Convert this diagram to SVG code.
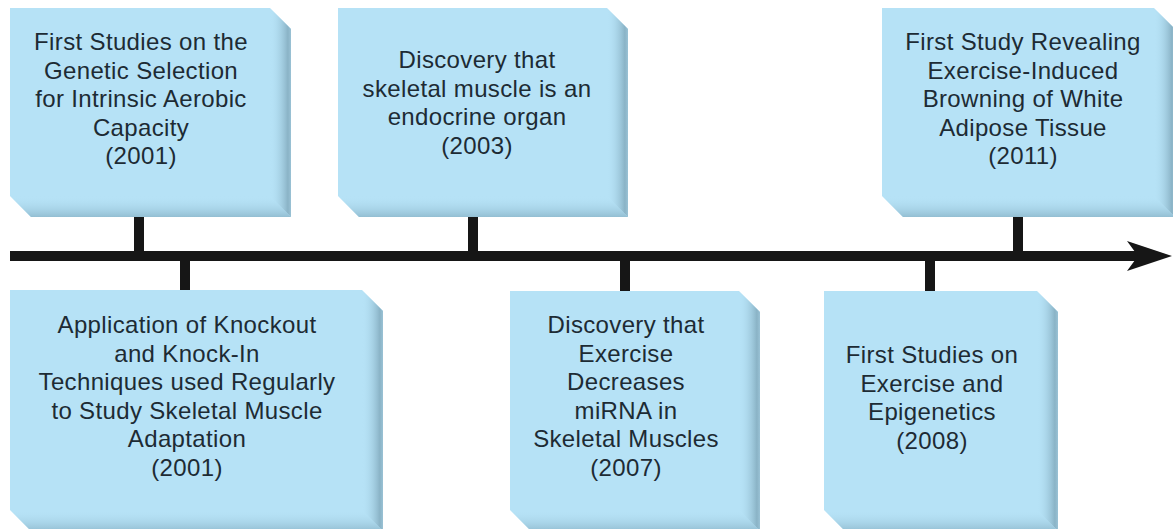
<svg xmlns="http://www.w3.org/2000/svg" width="1173" height="529" viewBox="0 0 1173 529">
  <defs>
    <linearGradient id="sideR" x1="0" y1="0" x2="1" y2="0">
      <stop offset="0" stop-color="#b5e1f5" stop-opacity="0"/>
      <stop offset="0.85" stop-color="#8ab3c6"/>
      <stop offset="1" stop-color="#9ac2d5"/>
    </linearGradient>
    <linearGradient id="sideB" x1="0" y1="0" x2="0" y2="1">
      <stop offset="0" stop-color="#b5e1f5" stop-opacity="0"/>
      <stop offset="1" stop-color="#93bed2"/>
    </linearGradient>
  </defs>
  <style>
    .face { fill: #b6e2f6; }
    .sr { fill: url(#sideR); }
    .sb { fill: url(#sideB); }
    .lbl { font-family: "Liberation Sans", Arial, sans-serif; font-size: 24px; letter-spacing: 0.35px; fill: #1d2b34; text-anchor: middle; }
    .stem { fill: #161616; }
  </style>
  <rect width="1173" height="529" fill="#ffffff"/>

  <!-- timeline axis, stems and arrowhead -->
  <g id="connectors">
    <rect x="10" y="251" width="1130" height="10" class="stem"/>
    <polygon points="1172,256 1127,241 1138,256 1127,271" class="stem"/>
    <rect x="134" y="217" width="10" height="36" class="stem"/>
    <rect x="468" y="217" width="10" height="36" class="stem"/>
    <rect x="1013" y="217" width="10" height="36" class="stem"/>
    <rect x="180" y="259" width="10" height="32" class="stem"/>
    <rect x="620" y="259" width="10" height="33" class="stem"/>
    <rect x="925" y="259" width="10" height="33" class="stem"/>
  </g>

  <!-- 2001: genetic selection -->
  <g id="n2001a">
    <polygon class="face" points="10,8 270,8 291,29 291,217 31,217 10,196"/>
    <polygon class="sr" points="270,8 291,29 291,217 270,196"/>
    <polygon class="sb" points="10,196 270,196 291,217 31,217"/>
    <text class="lbl" x="141" y="50">First Studies on the</text>
    <text class="lbl" x="141" y="78.5">Genetic Selection</text>
    <text class="lbl" x="141" y="107">for Intrinsic Aerobic</text>
    <text class="lbl" x="141" y="135.5">Capacity</text>
    <text class="lbl" x="141" y="164">(2001)</text>
  </g>

  <!-- 2003: endocrine organ -->
  <g id="n2003">
    <polygon class="face" points="338,8 607,8 628,29 628,217 359,217 338,196"/>
    <polygon class="sr" points="607,8 628,29 628,217 607,196"/>
    <polygon class="sb" points="338,196 607,196 628,217 359,217"/>
    <text class="lbl" x="477" y="68">Discovery that</text>
    <text class="lbl" x="477" y="96.5">skeletal muscle is an</text>
    <text class="lbl" x="477" y="125">endocrine organ</text>
    <text class="lbl" x="477" y="153.5">(2003)</text>
  </g>

  <!-- 2011: browning of white adipose -->
  <g id="n2011">
    <polygon class="face" points="882,8 1154,8 1175,29 1175,217 903,217 882,196"/>
    <polygon class="sr" points="1154,8 1175,29 1175,217 1154,196"/>
    <polygon class="sb" points="882,196 1154,196 1175,217 903,217"/>
    <text class="lbl" x="1023" y="50">First Study Revealing</text>
    <text class="lbl" x="1023" y="78.5">Exercise-Induced</text>
    <text class="lbl" x="1023" y="107">Browning of White</text>
    <text class="lbl" x="1023" y="135.5">Adipose Tissue</text>
    <text class="lbl" x="1023" y="164">(2011)</text>
  </g>

  <!-- 2001: knockout / knock-in -->
  <g id="n2001b">
    <polygon class="face" points="10,290 362,290 383,311 383,531 31,531 10,510"/>
    <polygon class="sr" points="362,290 383,311 383,531 362,510"/>
    <polygon class="sb" points="10,510 362,510 383,531 31,531"/>
    <text class="lbl" x="187" y="333">Application of Knockout</text>
    <text class="lbl" x="187" y="361.5">and Knock-In</text>
    <text class="lbl" x="187" y="390">Techniques used Regularly</text>
    <text class="lbl" x="187" y="418.5">to Study Skeletal Muscle</text>
    <text class="lbl" x="187" y="447">Adaptation</text>
    <text class="lbl" x="187" y="475.5">(2001)</text>
  </g>

  <!-- 2007: miRNA -->
  <g id="n2007">
    <polygon class="face" points="510,291 739,291 760,312 760,531 531,531 510,510"/>
    <polygon class="sr" points="739,291 760,312 760,531 739,510"/>
    <polygon class="sb" points="510,510 739,510 760,531 531,531"/>
    <text class="lbl" x="626" y="333">Discovery that</text>
    <text class="lbl" x="626" y="361.5">Exercise</text>
    <text class="lbl" x="626" y="390">Decreases</text>
    <text class="lbl" x="626" y="418.5">miRNA in</text>
    <text class="lbl" x="626" y="447">Skeletal Muscles</text>
    <text class="lbl" x="626" y="475.5">(2007)</text>
  </g>

  <!-- 2008: epigenetics -->
  <g id="n2008">
    <polygon class="face" points="824,291 1037,291 1058,312 1058,531 845,531 824,510"/>
    <polygon class="sr" points="1037,291 1058,312 1058,531 1037,510"/>
    <polygon class="sb" points="824,510 1037,510 1058,531 845,531"/>
    <text class="lbl" x="932" y="363">First Studies on</text>
    <text class="lbl" x="932" y="391.5">Exercise and</text>
    <text class="lbl" x="932" y="420">Epigenetics</text>
    <text class="lbl" x="932" y="448.5">(2008)</text>
  </g>
</svg>
